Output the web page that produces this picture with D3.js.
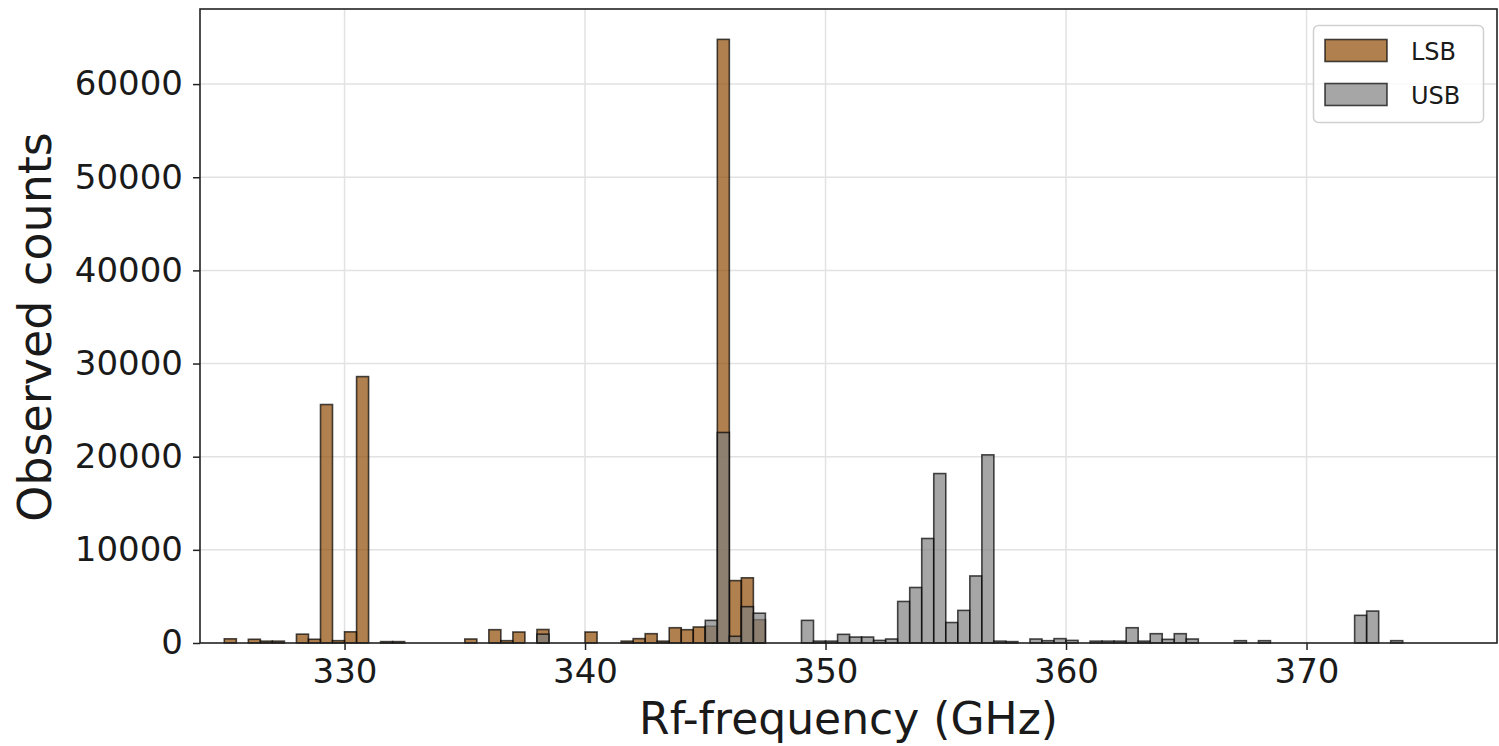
<!DOCTYPE html>
<html lang="en">
<head>
    <meta charset="utf-8">
    <title>Observed counts per Rf-frequency</title>
    <script src="https://d3js.org/d3.v7.min.js" charset="utf-8"></script>
    <style>
        body { margin: 0; background: #fff; }
        text { font-family: "DejaVu Sans", sans-serif; fill: #1a1a1a; }
    </style>
</head>
<body>
    <div id="chart-holder"></div>
	<script type="text/javascript">
// histogram bins are 0.5 GHz wide, listed by left edge (GHz)
var binWidth = 0.5;

// LSB (lower sideband) bins and counts
var lsbBins   = [325.0, 326.0, 326.5, 327.0, 328.0, 328.5, 329.0, 329.5, 330.0, 330.5,
                 331.5, 332.0, 335.0, 336.0, 336.5, 337.0, 338.0, 340.0, 341.5, 342.0,
                 342.5, 343.0, 343.5, 344.0, 344.5, 345.0, 345.5, 346.0, 346.5, 347.0];
var lsbCounts = [450, 400, 200, 200, 950, 400, 25600, 250, 1200, 28600,
                 150, 150, 430, 1430, 250, 1180, 1450, 1180, 200, 470,
                 1000, 200, 1640, 1430, 1720, 1800, 64800, 6700, 7000, 2500];

// USB (upper sideband) bins and counts
var usbBins   = [338.0, 345.0, 345.5, 346.0, 346.5, 347.0, 349.0, 349.5, 350.0, 350.5,
                 351.0, 351.5, 352.0, 352.5, 353.0, 353.5, 354.0, 354.5, 355.0, 355.5,
                 356.0, 356.5, 357.0, 357.5, 358.5, 359.0, 359.5, 360.0, 361.0, 361.5,
                 362.0, 362.5, 363.0, 363.5, 364.0, 364.5, 365.0, 367.0, 368.0, 372.0,
                 372.5, 373.5];
var usbCounts = [950, 2430, 22600, 720, 3900, 3200, 2430, 200, 200, 930,
                 640, 640, 280, 430, 4460, 5960, 11220, 18190, 2200, 3500,
                 7200, 20200, 200, 150, 430, 250, 470, 280, 200, 200,
                 200, 1640, 200, 1000, 390, 1000, 430, 250, 250, 2970,
                 3430, 250];

var xTicks = [330, 340, 350, 360, 370];
var yTicks = [0, 10000, 20000, 30000, 40000, 50000, 60000];

var series = [
    { name: "LSB", bins: lsbBins, counts: lsbCounts, color: "#8f4a04" },
    { name: "USB", bins: usbBins, counts: usbCounts, color: "#808080" }
];

var width = 1499;
var height = 746;
var margin = { left: 200, right: 2, top: 9, bottom: 103 };

var svg = d3.select( "#chart-holder" )
    .append( "svg" )
    .attr( "width", width )
    .attr( "height", height );

var x = d3.scaleLinear()
    .domain( [323.99, 377.92] )
    .range( [margin.left, width - margin.right] );

var y = d3.scaleLinear()
    .domain( [0, 68060] )
    .range( [height - margin.bottom, margin.top] );

// grid
var grid = svg.append( "g" );
grid.selectAll( "line.vx" )
    .data( xTicks )
    .enter()
    .append( "line" )
    .attr( "x1", d => x(d) ).attr( "x2", d => x(d) )
    .attr( "y1", y.range()[0] ).attr( "y2", y.range()[1] )
    .attr( "stroke", "#e2e2e2" )
    .attr( "stroke-width", 1.5 );
grid.selectAll( "line.hy" )
    .data( yTicks.slice(1) )
    .enter()
    .append( "line" )
    .attr( "x1", x.range()[0] ).attr( "x2", x.range()[1] )
    .attr( "y1", d => y(d) ).attr( "y2", d => y(d) )
    .attr( "stroke", "#e2e2e2" )
    .attr( "stroke-width", 1.5 );

// bars, LSB first then USB on top
series.forEach(function(s){
    var rows = s.bins.map((b, i) => ({ x0: b, count: s.counts[i] }));
    svg.append( "g" )
        .selectAll( "rect" )
        .data( rows )
        .enter()
        .append( "rect" )
        .attr( "x", d => x(d.x0) )
        .attr( "width", d => x(d.x0 + binWidth) - x(d.x0) )
        .attr( "y", d => y(d.count) )
        .attr( "height", d => y(0) - y(d.count) )
        .attr( "fill", s.color )
        .attr( "fill-opacity", 0.7 )
        .attr( "stroke", "#000" )
        .attr( "stroke-opacity", 0.7 )
        .attr( "stroke-width", 1.6 );
});

// axes
var xAxis = svg.append( "g" )
    .attr( "transform", "translate(0," + y(0) + ")" )
    .call( d3.axisBottom(x).tickValues(xTicks).tickSize(7).tickPadding(9).tickFormat(d3.format("d")) );
xAxis.select( ".domain" ).remove();
xAxis.selectAll( "text" ).style( "font-size", "34px" ).attr( "fill", "#1a1a1a" );

var yAxis = svg.append( "g" )
    .attr( "transform", "translate(" + x.range()[0] + ",0)" )
    .call( d3.axisLeft(y).tickValues(yTicks).tickSize(7).tickPadding(10).tickFormat(d3.format("d")) );
yAxis.select( ".domain" ).remove();
yAxis.selectAll( "text" ).style( "font-size", "34px" ).attr( "fill", "#1a1a1a" );

svg.selectAll( ".tick line" ).attr( "stroke", "#222" ).attr( "stroke-width", 1.5 );

// frame
svg.append( "rect" )
    .attr( "x", x.range()[0] )
    .attr( "y", y.range()[1] )
    .attr( "width", x.range()[1] - x.range()[0] )
    .attr( "height", y.range()[0] - y.range()[1] )
    .attr( "fill", "none" )
    .attr( "stroke", "#222" )
    .attr( "stroke-width", 1.6 );

// axis labels
svg.append( "text" )
    .attr( "x", (x.range()[0] + x.range()[1]) / 2 )
    .attr( "y", 734 )
    .attr( "text-anchor", "middle" )
    .style( "font-size", "44px" )
    .text( "Rf-frequency (GHz)" );

svg.append( "text" )
    .attr( "transform", "translate(51,327) rotate(-90)" )
    .attr( "text-anchor", "middle" )
    .style( "font-size", "46px" )
    .text( "Observed counts" );

// legend
var legend = svg.append( "g" );
legend.append( "rect" )
    .attr( "x", 1313.5 ).attr( "y", 25.5 )
    .attr( "width", 170 ).attr( "height", 97 )
    .attr( "rx", 5 )
    .attr( "fill", "#fff" ).attr( "fill-opacity", 0.8 )
    .attr( "stroke", "#d0d0d0" ).attr( "stroke-width", 1.5 );

var items = legend.selectAll( "g.item" )
    .data( series )
    .enter()
    .append( "g" )
    .attr( "transform", (d, i) => "translate(1325," + (39.5 + i * 44) + ")" );
items.append( "rect" )
    .attr( "width", 62 ).attr( "height", 22 )
    .attr( "fill", d => d.color ).attr( "fill-opacity", 0.7 )
    .attr( "stroke", "#000" ).attr( "stroke-opacity", 0.7 )
    .attr( "stroke-width", 1.6 );
items.append( "text" )
    .attr( "x", 86 ).attr( "y", 20 )
    .style( "font-size", "24px" )
    .text( d => d.name );
	</script>
</body>
</html>
